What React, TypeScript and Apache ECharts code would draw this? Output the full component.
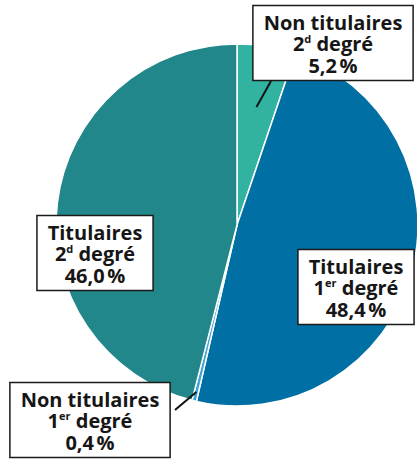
import React, { useEffect, useRef } from "react";
import * as echarts from "echarts";

const categories = [
  "Non titulaires 2d degré",
  "Titulaires 1er degré",
  "Non titulaires 1er degré",
  "Titulaires 2d degré",
];
const values = [5.2, 48.4, 0.4, 46.0];
const line1 = ["Non titulaires", "Titulaires", "Non titulaires", "Titulaires"];
const ordNum = ["2", "1", "1", "2"];
const ordSup = ["d", "er", "er", "d"];
const valueLabels = ["5,2\u202f%", "48,4\u202f%", "0,4\u202f%", "46,0\u202f%"];

const COLORS = ["#32b3a1", "#006fa3", "#3ea3d6", "#22878a"];
const CENTER = [237, 225];
const RADIUS = 181;
// label box centres (layout)
const LABEL_POS = [
  [333, 43],
  [356, 287],
  [90, 420],
  [95, 253],
];
// label-line anchors on the boxes, and start radius fraction
const LINE_END: (number[] | null)[] = [[271, 81], null, [175, 410], null];
const LINE_R = [0.66, 0, 0.95, 0];

function midPoint(i: number, rFrac: number) {
  const total = values.reduce((a, b) => a + b, 0);
  let cum = 0;
  for (let k = 0; k < i; k++) cum += values[k];
  const mid = (cum + values[i] / 2) / total;
  const ang = (90 - mid * 360) * (Math.PI / 180);
  return [
    CENTER[0] + Math.cos(ang) * RADIUS * rFrac,
    CENTER[1] - Math.sin(ang) * RADIUS * rFrac,
  ];
}

export default function App() {
  const ref = useRef<HTMLDivElement>(null);
  useEffect(() => {
    document.body.style.margin = "0";
    const chart = echarts.init(ref.current!, null, { renderer: "svg" });
    const font = "'Open Sans', Lato, sans-serif";
    const data = categories.map((name, i) => ({
      name,
      value: values[i],
      itemStyle: { color: COLORS[i] },
      label: {
        formatter:
          `{b|${line1[i]}}\n{b|${ordNum[i]}}{sup|${ordSup[i]}}{b| degré}\n{b|${valueLabels[i]}}`,
      },
    }));
    const lines: any[] = [];
    categories.forEach((_, i) => {
      const end = LINE_END[i];
      if (!end) return;
      const s = midPoint(i, LINE_R[i]);
      lines.push({
        type: "line",
        z: 100,
        shape: { x1: s[0], y1: s[1], x2: end[0], y2: end[1] },
        style: { stroke: "#111111", lineWidth: 2 },
      });
    });
    chart.setOption({
      animation: false,
      graphic: lines,
      series: [
        {
          type: "pie",
          center: CENTER,
          radius: RADIUS,
          startAngle: 90,
          clockwise: true,
          avoidLabelOverlap: false,
          itemStyle: { borderColor: "#ffffff", borderWidth: 1.5 },
          data,
          label: {
            show: true,
            position: "outside",
            backgroundColor: "#ffffff",
            borderColor: "#1a1a1a",
            borderWidth: 1.5,
            padding: [5, 10, 4, 10],
            align: "center",
            rich: {
              b: {
                fontFamily: font,
                fontWeight: "bold",
                fontSize: 20,
                lineHeight: 21.5,
                color: "#161616",
                align: "center",
              },
              sup: {
                fontFamily: font,
                fontWeight: "bold",
                fontSize: 11,
                lineHeight: 21.5,
                color: "#161616",
                verticalAlign: "top",
                padding: [0, 0, 7, 0],
              },
            },
          },
          labelLine: { show: false },
          emphasis: { disabled: true },
          labelLayout: (params: any) => {
            const p = LABEL_POS[params.dataIndex];
            return {
              x: p[0],
              y: p[1],
              align: "center",
              verticalAlign: "middle",
            };
          },
        },
      ],
    });
    return () => chart.dispose();
  }, []);
  return <div ref={ref} style={{ width: 417, height: 460 }} />;
}
